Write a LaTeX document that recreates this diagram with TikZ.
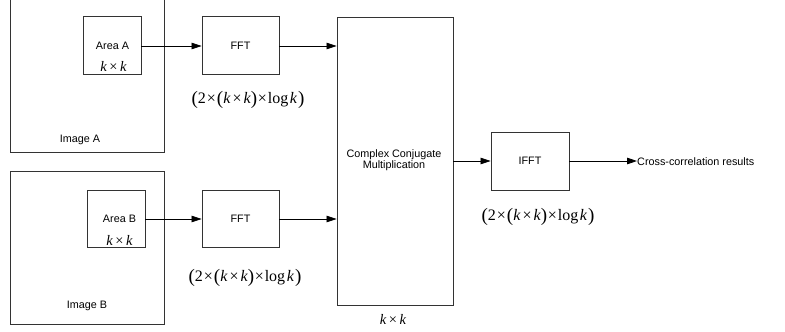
\documentclass[tikz,border=0pt]{standalone}
\usepackage{fontspec}
\setmainfont{Liberation Sans}
\newfontfamily\serifmath{Liberation Serif}
\usetikzlibrary{arrows.meta}
\newcommand{\bigp}[1]{\raisebox{-1pt}{\fontsize{19}{19}\selectfont#1}}
\newcommand{\cplx}{{\serifmath\fontsize{16}{16}\selectfont\bigp{(}2\kern1pt×\kern1pt\bigp{(}\textit{k}\kern2pt×\kern2pt\textit{k}\bigp{)}\kern0.5pt×\kern1pt log\kern1.5pt\textit{k}\kern1pt\bigp{)}}}
\newcommand{\kk}{{\serifmath\fontsize{14.5}{15}\selectfont\textit{k}\,×\,\textit{k}}}
\begin{document}
\begin{tikzpicture}[x=1pt,y=-1pt,
  box/.style={draw=black!80,line width=0.9pt,inner sep=0pt,minimum width=#1},
  box/.default=58pt,
  lbl/.style={font=\fontsize{10.8}{12.3}\selectfont,inner sep=0pt,align=center},
  conn/.style={line width=0.8pt,-{Triangle[length=10pt,width=6.5pt]}}]
\useasboundingbox (0,0) rectangle (785,332);
\clip (0,0) rectangle (785,332);
% image A
\node[box=154pt,minimum height=157pt] (imgA) at (87,73.5) {};
\node[lbl] (imgAl) at (80,140) {Image A};
\node[box=58pt,minimum height=58pt] (areaA) at (112,45) {};
\node[lbl] (areaAl) at (112.5,46) {Area A};
\node[inner sep=0pt] (areaAk) at (113.5,66) {\kk};
\node[box=77pt,minimum height=58pt] (fftA) at (240.5,45) {};
\node[lbl] (fftAl) at (240.5,46) {FFT};
\node[inner sep=0pt] (cA) at (248,100) {\cplx};
% image B
\node[box=154pt,minimum height=153pt] (imgB) at (87,247.5) {};
\node[lbl] (imgBl) at (87,306) {Image B};
\node[box=58pt,minimum height=57pt] (areaB) at (116,218.5) {};
\node[lbl] (areaBl) at (119.5,219) {Area B};
\node[inner sep=0pt] (areaBk) at (119.5,240) {\kk};
\node[box=77pt,minimum height=57pt] (fftB) at (240.5,218.5) {};
\node[lbl] (fftBl) at (240.5,219) {FFT};
\node[inner sep=0pt] (cB) at (245,278) {\cplx};
% CCM
\node[box=116pt,minimum height=288pt] (ccm) at (395,161) {};
\node[lbl,align=center] (ccml) at (394,160.5) {Complex Conjugate\\[-1.5pt]Multiplication};
\node[inner sep=0pt] (ccmk) at (393,319) {\kk};
% IFFT
\node[box=78pt,minimum height=58pt] (ifft) at (530,161) {};
\node[lbl] (ifftl) at (530,161) {IFFT};
\node[inner sep=0pt] (cI) at (538,217) {\cplx};
\node[lbl,anchor=west] (res) at (637,162) {Cross-correlation results};
% connectors
\draw[conn] (areaA.east |- areaAl) -- (fftA.west |- areaAl);
\draw[conn] (fftA.east |- areaAl) -- (ccm.west |- areaAl);
\draw[conn] (areaB.east |- areaBl) -- (fftB.west |- areaBl);
\draw[conn] (fftB.east |- areaBl) -- (ccm.west |- areaBl);
\draw[conn] (ccm.east |- ifft) -- (ifft.west);
\draw[conn] (ifft.east) -- (res.west |- ifft);
\end{tikzpicture}
\end{document}
